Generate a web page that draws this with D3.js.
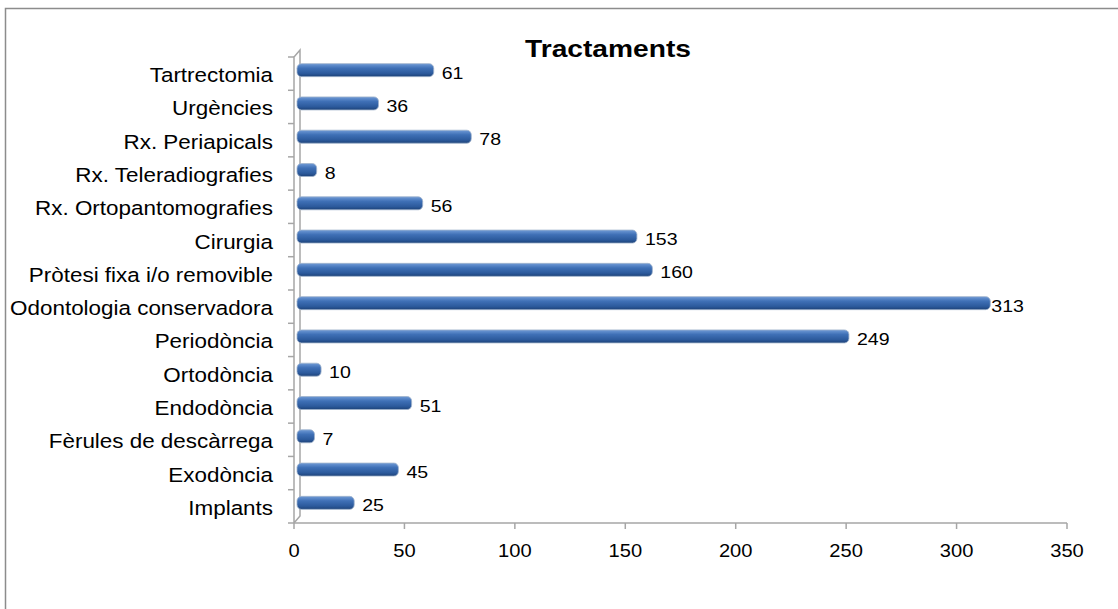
<!DOCTYPE html>
<html lang="ca">
<head>
  <meta charset="UTF-8">
  <title>Tractaments</title>
  <script src="https://d3js.org/d3.v7.min.js"></script>
  <style>
    body { margin: 0; background: #fff; }
    svg { display: block; font-family: "Liberation Sans", Arial, sans-serif; }
  </style>
</head>
<body>
<svg id="chart" width="1118" height="609"></svg>
<script>
const categories = ["Tartrectomia", "Urgències", "Rx. Periapicals", "Rx. Teleradiografies",
  "Rx. Ortopantomografies", "Cirurgia", "Pròtesi fixa i/o removible", "Odontologia conservadora",
  "Periodòncia", "Ortodòncia", "Endodòncia", "Fèrules de descàrrega", "Exodòncia", "Implants"];
const values = [61, 36, 78, 8, 56, 153, 160, 313, 249, 10, 51, 7, 45, 25];
const xTicks = [0, 50, 100, 150, 200, 250, 300, 350];

const svg = d3.select("#chart");
const dx = 6, dy = -7; // profunditat 3D
const sx = 1.15;       // el text original és més ample

const x = d3.scaleLinear().domain([0, 350]).range([294, 1067]);
const y = d3.scaleBand().domain(categories).range([57, 523]);

// marc exterior
svg.append("rect").attr("x", 5.5).attr("y", 8.5).attr("width", 1200).attr("height", 700)
  .attr("fill", "none").attr("stroke", "#8c8c8c").attr("stroke-width", 1.5);

const defs = svg.append("defs");
const grad = defs.append("linearGradient").attr("id", "barGrad")
  .attr("x1", 0).attr("y1", 0).attr("x2", 0).attr("y2", 1);
grad.append("stop").attr("offset", "0%").attr("stop-color", "#6f9ad6");
grad.append("stop").attr("offset", "35%").attr("stop-color", "#3f70b6");
grad.append("stop").attr("offset", "75%").attr("stop-color", "#2c5a9c");
grad.append("stop").attr("offset", "100%").attr("stop-color", "#1d4278");

// paret i terra
const wall = svg.append("g").attr("fill", "none").attr("stroke", "#a6a6a6").attr("stroke-width", 1.5);
const x0 = x(0), yT = y.range()[0], yB = y.range()[1];
wall.append("path").attr("d",
  `M${x0},${yB}V${yT}L${x0 + dx},${yT + dy}V${yB + dy}L${x0},${yB}`);

// eix X
svg.append("line").attr("x1", x0).attr("x2", x(350)).attr("y1", yB).attr("y2", yB)
  .attr("stroke", "#a6a6a6").attr("stroke-width", 1.5);
svg.selectAll(".xtick").data(xTicks).join("line")
  .attr("x1", d => x(d)).attr("x2", d => x(d)).attr("y1", yB).attr("y2", yB + 6)
  .attr("stroke", "#a6a6a6").attr("stroke-width", 1.5);
svg.selectAll(".xlab").data(xTicks).join("text")
  .attr("transform", d => `translate(${x(d)},557) scale(${sx},1)`)
  .attr("text-anchor", "middle")
  .attr("font-size", 17.5).attr("fill", "#000").text(d => d);

// marques eix Y
svg.selectAll(".ytick").data(d3.range(categories.length + 1)).join("line")
  .attr("x1", x0 - 6).attr("x2", x0)
  .attr("y1", i => yT + i * y.step()).attr("y2", i => yT + i * y.step())
  .attr("stroke", "#a6a6a6").attr("stroke-width", 1.5);

svg.selectAll(".ylab").data(categories).join("text")
  .attr("transform", d => `translate(273,${y(d) + y.bandwidth() / 2 + 8.5}) scale(${sx},1)`)
  .attr("text-anchor", "end").attr("font-size", 19.5).attr("fill", "#000").text(d => d);

// barres
const bh = 13;
svg.selectAll(".bar").data(values).join("rect")
  .attr("x", x0 + 3)
  .attr("y", (d, i) => y(categories[i]) + y.bandwidth() / 2 + dy / 2 - bh / 2)
  .attr("width", d => x(d) - x0 + 2)
  .attr("height", bh).attr("rx", 4.5).attr("ry", 4.5)
  .attr("fill", "url(#barGrad)").attr("stroke", "#9fb2cc").attr("stroke-width", 0.8);

svg.selectAll(".val").data(values).join("text")
  .attr("transform", (d, i) =>
    `translate(${x(d) + 5 + (d > 300 ? 1 : 8)},${y(categories[i]) + y.bandwidth() / 2 + 5}) scale(${sx},1)`)
  .attr("font-size", 17).attr("fill", "#000").text(d => d);

svg.append("text").attr("transform", `translate(608,57) scale(${sx},1)`).attr("text-anchor", "middle")
  .attr("font-size", 24.5).attr("font-weight", "bold").text("Tractaments");
</script>
</body>
</html>
